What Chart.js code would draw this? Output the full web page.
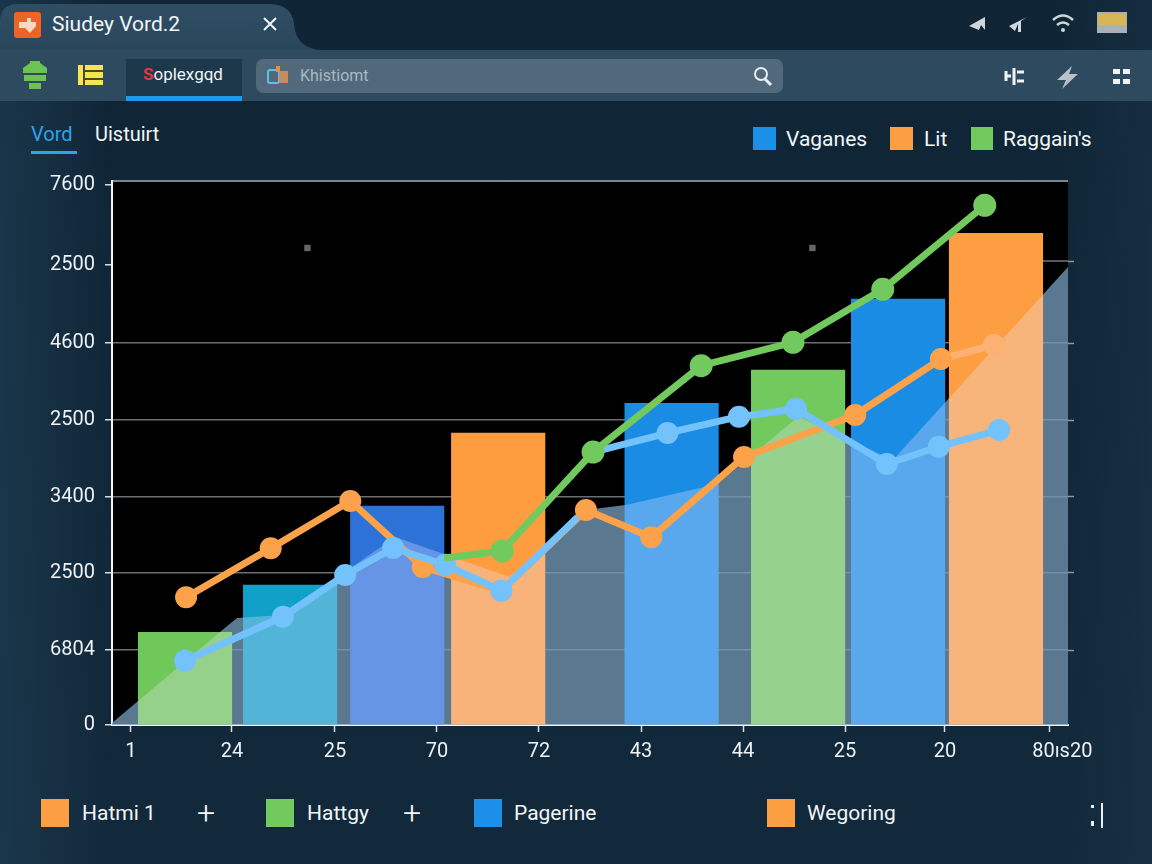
<!DOCTYPE html>
<html>
<head>
<meta charset="utf-8">
<title>Siudey Vord.2</title>
<script src="https://cdn.jsdelivr.net/npm/chart.js@4"></script>
<style>
html,body{margin:0;padding:0;width:1152px;height:864px;overflow:hidden;background:#11283a;font-family:Roboto,sans-serif;color:#f2f6f8}
#bg{position:absolute;left:0;top:0;width:1152px;height:864px;background:linear-gradient(90deg,rgba(34,66,88,.55) 0,rgba(34,66,88,0) 110px,rgba(34,66,88,0) 1050px,rgba(30,58,78,.4) 1152px),linear-gradient(180deg,#0f2536 0,#12293b 100%)}
.t{position:absolute;white-space:nowrap;line-height:1}
.sw{position:absolute}
svg{position:absolute;overflow:visible}
canvas{position:absolute;left:0;top:0}
</style>
</head>
<body>
<div id="bg"></div>
<svg style="left:0;top:0" width="1152" height="102">
  <defs><linearGradient id="b" x1="0" y1="0" x2="0" y2="1"><stop offset="0" stop-color="#2f4e64"/><stop offset="1" stop-color="#2a465b"/></linearGradient></defs>
  <rect x="0" y="50" width="1152" height="51" fill="#2d4a5f"/>
  <path d="M0 50V22Q0 4 18 4H268Q292 4 294 24Q296 49 322 50Z" fill="url(#b)"/>
  <rect x="14" y="12" width="27" height="26" rx="3" fill="#ee6428"/>
  <path d="M19 22h8v-4h4v4h5v4l-6 7-5-5h-6z" fill="#f8d9c4"/>
  <path d="M264 18l12 12M276 18l-12 12" stroke="#f2f6f8" stroke-width="2"/>
  <path d="M23 68l7-5v-2h10v2l7 5v5H23zM24 75h22v6H24zM29 83h12v6H29z" fill="#6cc353"/>
  <rect x="78" y="65" width="25" height="20" fill="#f4e653"/><path d="M84 65v20M84 71h19M84 79h19" stroke="#4a4a20" stroke-width="2"/>
  <rect x="126" y="59" width="116" height="42" fill="#1d374b"/>
  <rect x="126" y="96" width="116" height="5" fill="#1d9bea"/>
  <rect x="256" y="59" width="527" height="34" rx="7" fill="#51697b"/>
  <rect x="268" y="70" width="11" height="13" rx="2" fill="none" stroke="#5cc0e8" stroke-width="2"/>
  <rect x="279" y="71" width="9" height="12" fill="#c78b5e"/><rect x="276" y="66" width="4" height="6" fill="#ee8d3e"/>
  <circle cx="761" cy="74" r="6" fill="none" stroke="#e8eef2" stroke-width="2"/><path d="M765 79l6 6" stroke="#e8eef2" stroke-width="3"/>
  <path d="M1014 68v17M1005 76h6M1017 72h7M1017 81h7M1006 71v10" stroke="#f0f3f5" stroke-width="3" fill="none"/>
  <path d="M1072 66l-15 14h9l-4 9 16-15h-9z" fill="#b9c2c9"/>
  <path d="M1113 69h7v5h-7zM1123 69h7v5h-7zM1113 79h7v5h-7zM1123 79h7v5h-7z" fill="#f0f3f5"/>
  <path d="M969 26l16-9v13l-4-5-2 5z" fill="#cfd6db"/>
  <path d="M1009 26l18-9-6 4v11h-3V24l-3 7z" fill="#cfd6db"/>
  <path d="M1053 20q10-9 20 0M1057 25q6-5 12 0" fill="none" stroke="#cfd6db" stroke-width="2.5"/><circle cx="1063" cy="30" r="2" fill="#cfd6db"/>
  <rect x="1097" y="12" width="30" height="21" fill="#a9b1b3"/><rect x="1098" y="14" width="28" height="11" fill="#d8b655"/>
</svg>
<div class="t" style="left:52px;top:14px;font-size:21px">Siudey Vord.2</div>
<div class="t" style="left:143px;top:66px;font-size:17px"><span style="color:#e8343c;font-weight:700">S</span>oplexgqd</div>
<div class="t" style="left:300px;top:68px;font-size:16px;color:#a9b9c5">Khistiomt</div>
<div class="t" style="left:31px;top:124px;font-size:20px;color:#2ba4ea">Vord</div>
<div class="sw" style="left:31px;top:151px;width:46px;height:3px;background:#2ba4ea"></div>
<div class="t" style="left:95px;top:124px;font-size:20px">Uistuirt</div>
<div class="sw" style="left:753px;top:127px;width:23px;height:23px;background:#1c8fe8"></div>
<div class="t" style="left:786px;top:129px;font-size:21px">Vaganes</div>
<div class="sw" style="left:890px;top:127px;width:23px;height:23px;background:#fc9e42"></div>
<div class="t" style="left:924px;top:129px;font-size:21px">Lit</div>
<div class="sw" style="left:971px;top:127px;width:22px;height:23px;background:#72c95e"></div>
<div class="t" style="left:1003px;top:129px;font-size:21px">Raggain's</div>
<div class="sw" style="left:41px;top:799px;width:28px;height:28px;background:#fc9e42"></div>
<div class="t" style="left:82px;top:803px;font-size:21px">Hatmi 1</div>
<div class="t" style="left:197px;top:797px;font-size:32px;font-weight:300">+</div>
<div class="sw" style="left:266px;top:799px;width:28px;height:28px;background:#72c95e"></div>
<div class="t" style="left:307px;top:803px;font-size:21px">Hattgy</div>
<div class="t" style="left:403px;top:797px;font-size:32px;font-weight:300">+</div>
<div class="sw" style="left:474px;top:799px;width:28px;height:28px;background:#1c8fe8"></div>
<div class="t" style="left:514px;top:803px;font-size:21px">Pagerine</div>
<div class="sw" style="left:767px;top:799px;width:28px;height:28px;background:#fc9e42"></div>
<div class="t" style="left:807px;top:803px;font-size:21px">Wegoring</div>
<svg style="left:1088px;top:802px" width="20" height="28"><path d="M3 3h3v3H3zM3 19h3v5H3zM13 1h2v25h-2z" fill="#e8eef2"/></svg>
<canvas id="c" width="1152" height="864"></canvas>
<script>
const xTickValues = [0, 0.99, 2.0, 3.0, 4.0, 5.0, 6.0, 7.0, 7.98, 9.0, 9.13];
const xTickLabels = ["1", "24", "25", "70", "72", "43", "44", "25", "20", "", "80ıs20"];
const yTickValues = [0, 974, 1978, 2965, 3961, 4961, 5974, 7013];
const yTickLabels = ["0", "6804", "2500", "3400", "2500", "4600", "2500", "7600"];
const rightTickValues = [974, 1978, 2965, 3961, 4961, 6026];

const barX = [0.53, 1.56, 2.61, 3.60, 5.30, 6.54, 7.52, 8.48];
const barY = [1204, 1818, 2844, 3792, 4178, 4610, 5532, 6386];
const barColors = ["#70c85a", "#10a0c8", "#2c72d8", "#fd9d40", "#1a8ce4", "#72c95e", "#1a8ce4", "#fd9e42"];

const orangeX = [0.54, 1.37, 2.15, 2.86, 3.63, 4.46, 5.10, 6.01, 7.10, 7.94, 8.46];
const orangeY = [1658, 2295, 2909, 2052, 1744, 2792, 2438, 3481, 4026, 4753, 4935];
const greenX = [3.07, 3.64, 4.53, 5.59, 6.49, 7.37, 8.37];
const greenY = [2169, 2260, 3545, 4666, 4970, 5658, 6749];
const blueX = [0.53, 1.49, 2.10, 2.57, 3.08, 3.63, 4.38, 4.45, 4.53, 5.26, 5.96, 6.52, 7.41, 7.92, 8.51];
const blueY = [835, 1406, 1948, 2299, 2081, 1744, 2701, null, 3545, 3792, 4004, 4104, 3390, 3614, 3831];
const areaX = [-0.186, 0.92, 1.04, 1.49, 2.59, 3.71, 4.46, 4.85, 5.75, 6.54, 7.47, 9.186];
const areaY = [26, 1260, 1390, 1429, 2442, 1922, 2792, 2857, 3130, 4004, 3442, 5948];
const upperGridX = [8.02, 9.186];
const upperGridY = [6026, 6026];
const speckX = [1.73, 6.68];
const speckY = [6195, 6195];

const zip = (xs, ys) => xs.map((x, i) => ({x, y: ys[i]}));
const FONT = {family: 'Roboto', size: 20};
const ORANGE = '#fba24a', ORANGE_FADED = '#fdb274', GREEN = '#72c95e', BLUE = '#74c2fb';

const plotBack = {
  id: 'plotBack',
  beforeDraw(chart) {
    const {ctx, chartArea: a} = chart;
    ctx.save();
    ctx.fillStyle = '#000';
    ctx.fillRect(a.left, a.top, a.right - a.left, a.bottom - a.top);
    ctx.fillStyle = '#7d8589';
    ctx.fillRect(a.left, a.top - 1, a.right - a.left, 2);
    ctx.restore();
  }
};
const lineSet = (label, xs, ys, color, order, extra) => Object.assign({
  type: 'line', label, data: zip(xs, ys), borderColor: color, backgroundColor: color,
  pointBackgroundColor: color, borderWidth: 7, pointRadius: 11, pointBorderWidth: 0,
  tension: 0, fill: false, order, borderJoinStyle: 'round', clip: false
}, extra || {});

new Chart(document.getElementById('c'), {
  type: 'bar',
  data: {
    datasets: [
      {type: 'line', label: 'upper grid', data: zip(upperGridX, upperGridY), borderColor: '#6f7679', borderWidth: 1.5, pointRadius: 0, order: 9},
      {type: 'line', label: 'area base', data: zip(areaX, areaY), borderWidth: 0, pointRadius: 0, tension: 0, fill: 'origin', backgroundColor: 'rgba(42,108,142,.68)', order: 8},
      {type: 'bar', label: 'bars', data: zip(barX, barY), backgroundColor: barColors, barThickness: 93.5, borderWidth: 0, order: 7},
      {type: 'line', label: 'area veil', data: zip(areaX, areaY), borderWidth: 0, pointRadius: 0, tension: 0, fill: 'origin', backgroundColor: 'rgba(235,233,255,.3)', order: 6},
      {type: 'line', label: 'specks', data: zip(speckX, speckY), showLine: false, pointStyle: 'rect', pointRadius: 4.5, pointBorderWidth: 0, pointBackgroundColor: '#666', order: 5},
      lineSet('Lit', orangeX, orangeY, ORANGE, 3, {
        pointBackgroundColor: orangeX.map((_, i) => i === orangeX.length - 1 ? ORANGE_FADED : ORANGE),
        segment: {borderColor: c => c.p1DataIndex === orangeX.length - 1 ? ORANGE_FADED : undefined}
      }),
      lineSet('Vaganes', blueX, blueY, BLUE, 2, {
        spanGaps: false,
        pointRadius: blueX.map((_, i) => (i === 6 || i === 8) ? 0 : 11)
      }),
      lineSet("Raggain's", greenX, greenY, GREEN, 1, {
        pointRadius: greenX.map((_, i) => i === 0 ? 0 : 11.5)
      })
    ]
  },
  plugins: [plotBack],
  options: {
    responsive: false,
    animation: false,
    devicePixelRatio: 1,
    layout: {padding: {top: 181, left: 0, right: 0, bottom: 0}},
    plugins: {legend: {display: false}, tooltip: {enabled: false}, title: {display: false}},
    scales: {
      x: {
        type: 'linear', position: 'bottom', offset: false,
        min: -0.186, max: 9.186,
        afterBuildTicks: s => { s.ticks = xTickValues.map(value => ({value})); },
        afterFit: s => { s.height = 139; },
        grid: {offset: false, drawOnChartArea: false, tickLength: 7, tickWidth: 1.5,
               tickColor: c => c.index === xTickValues.length - 1 ? 'rgba(0,0,0,0)' : '#d5dde2'},
        border: {color: '#f2f5f7', width: 2},
        ticks: {callback: (v, i) => xTickLabels[i], color: '#eef2f5', font: FONT, padding: 8,
                autoSkip: false, maxRotation: 0, minRotation: 0}
      },
      y: {
        type: 'linear', position: 'left', min: 0, max: 7065,
        afterBuildTicks: s => { s.ticks = yTickValues.map(value => ({value})); },
        afterFit: s => { s.width = 112; },
        grid: {color: c => (c.index >= 1 && c.index <= 5) ? '#6b6f72' : 'rgba(0,0,0,0)', lineWidth: 1.5,
               tickLength: 7, tickWidth: 1.5, tickColor: '#d5dde2'},
        border: {color: '#f2f5f7', width: 2},
        ticks: {callback: (v, i) => yTickLabels[i], color: '#eef2f5', font: FONT, padding: 10, autoSkip: false}
      },
      yRight: {
        type: 'linear', position: 'right', min: 0, max: 7065,
        afterBuildTicks: s => { s.ticks = rightTickValues.map(value => ({value})); },
        afterFit: s => { s.width = 84; },
        grid: {drawOnChartArea: false, tickLength: 6, tickWidth: 1.5, tickColor: '#8a98a3'},
        border: {display: false},
        ticks: {display: false, autoSkip: false}
      }
    }
  }
});
</script>
</body>
</html>
